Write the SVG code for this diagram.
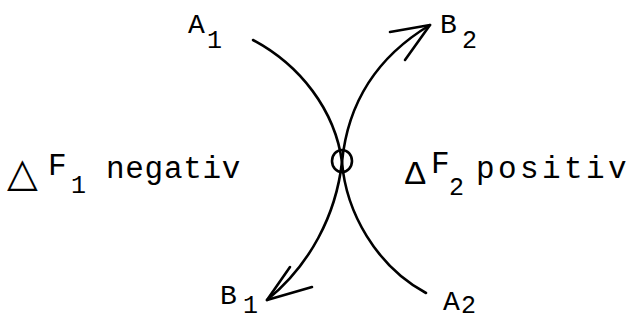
<svg xmlns="http://www.w3.org/2000/svg" width="642" height="320" viewBox="0 0 642 320">
<style>
.t{font-family:"Liberation Mono","DejaVu Sans Mono",monospace;fill:#000}
.lbl{font-size:28px}
.sub{font-size:25px}
.big{font-size:31px}
.c{fill:none;stroke:#000;stroke-width:2.6;stroke-linecap:round;stroke-linejoin:round}
</style>
<rect width="642" height="320" fill="#fff"/>
<g id="connectors">
<path class="c" d="M253,40 C300,65 335,110 342,162 C346,212 376,266 426,293"/>
<path class="c" d="M430,25 C380,55 348,100 342,162 C336,215 310,265 267,300"/>
<path class="c" d="M390,32 L430,25 L405,60"/>
<path class="c" d="M290,267 L267,300 L312,287"/>
</g>
<g id="center">
<ellipse class="c" cx="342" cy="161" rx="10" ry="11"/>
</g>
<g id="A1"><text class="t lbl" x="188" y="33">A</text><text class="t sub" x="207" y="48">1</text></g>
<g id="B2"><text class="t lbl" x="440" y="33">B</text><text class="t sub" x="462" y="48">2</text></g>
<g id="B1"><text class="t lbl" x="220" y="304">B</text><text class="t sub" x="243" y="313">1</text></g>
<g id="A2"><text class="t lbl" x="443" y="310">A</text><text class="t sub" x="461" y="313">2</text></g>
<g id="dF1"><text x="7" y="186" font-family="DejaVu Sans, sans-serif" font-size="40">△</text><text class="t big" x="48" y="175">F</text><text class="t sub" x="71" y="193">1</text><text class="t big" x="106" y="178" letter-spacing="0.7">negativ</text></g>
<g id="dF2"><text class="t" x="405" y="184" font-size="34">Δ</text><text class="t big" x="431" y="173">F</text><text class="t sub" x="449" y="195">2</text><text class="t big" x="476" y="178" letter-spacing="3.4">positiv</text></g>
</svg>
